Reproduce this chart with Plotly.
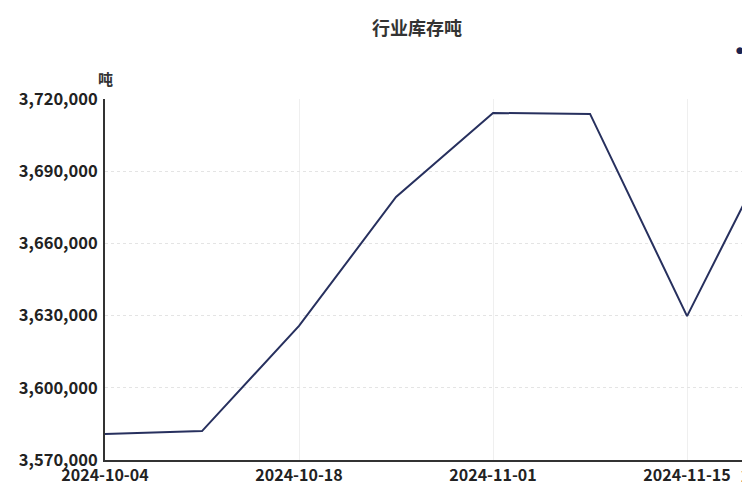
import plotly.graph_objects as go
import pandas as pd

dates = ["2024-10-04", "2024-10-11", "2024-10-18", "2024-10-25",
         "2024-11-01", "2024-11-08", "2024-11-15", "2024-11-22"]
inventory = [3580800, 3582000, 3625700, 3679300, 3714200, 3713800, 3629800, 3709500]
series_name = "行业库存吨"
x_tick_vals = ["2024-10-04", "2024-10-18", "2024-11-01", "2024-11-15"]
y_tick_vals = [3570000, 3600000, 3630000, 3660000, 3690000, 3720000]
last_label = "2024-11-22"

x_start = pd.Timestamp("2024-10-04")
x_end = pd.Timestamp("2024-11-19 13:00")

font_family = "Noto Sans CJK SC, Noto Sans, sans-serif"
tick_font = dict(size=16, color="#222", family=font_family, weight="bold")

fig = go.Figure()
fig.add_trace(go.Scatter(
    x=dates, y=inventory, mode="lines", name=series_name,
    line=dict(color="#27305e", width=2),
))

# cut-off last tick label and legend (chart extends past the right edge)
span = (x_end - x_start).total_seconds()
frac = (pd.Timestamp(last_label) - x_start).total_seconds() / span
fig.add_annotation(xref="paper", yref="paper", x=frac, y=0, yanchor="top",
                   xanchor="center", yshift=-1, text=last_label, showarrow=False,
                   font=tick_font)
fig.add_annotation(xref="paper", yref="paper", x=1, y=1, yanchor="middle",
                   xanchor="center", xshift=-10, yshift=49, text="●",
                   showarrow=False,
                   font=dict(size=9, color="#1b2350", family="DejaVu Sans"))
fig.add_annotation(xref="paper", yref="paper", x=1, y=1, yanchor="middle",
                   xanchor="left", xshift=-5, yshift=49, text=series_name,
                   showarrow=False,
                   font=dict(size=12, color="#333", family=font_family))
# title
fig.add_annotation(xref="paper", yref="paper", x=0.4837, y=1, yanchor="middle",
                   xanchor="center", yshift=72, text=series_name, showarrow=False,
                   font=dict(size=18, color="#333", family=font_family, weight="bold"))
# unit
fig.add_annotation(xref="paper", yref="paper", x=0, y=1, xanchor="center",
                   yanchor="middle", yshift=21, text="吨", showarrow=False,
                   font=dict(size=15, color="#333", family=font_family, weight="bold"))

fig.update_layout(
    width=742, height=492,
    margin=dict(l=97, r=0, t=91, b=40, autoexpand=False),
    paper_bgcolor="white", plot_bgcolor="white",
    showlegend=False,
    font=dict(family=font_family),
)

fig.update_xaxes(
    type="date", range=[x_start, x_end], automargin=False,
    tickvals=x_tick_vals, ticktext=x_tick_vals,
    showgrid=True, gridcolor="#efefef", gridwidth=1,
    showline=True, linecolor="#333", linewidth=2,
    ticks="", tickfont=tick_font,
    zeroline=False,
)
fig.update_yaxes(
    range=[3570000, 3720000], tickvals=y_tick_vals, automargin=False,
    tickformat=",d",
    showgrid=True, gridcolor="#e4e4e4", gridwidth=1, griddash="dot",
    showline=True, linecolor="#333", linewidth=2,
    ticks="", ticklabelstandoff=2,
    tickfont=dict(size=16.5, color="#222", family=font_family, weight="bold"),
    zeroline=False,
)

fig.write_html("out.html")
